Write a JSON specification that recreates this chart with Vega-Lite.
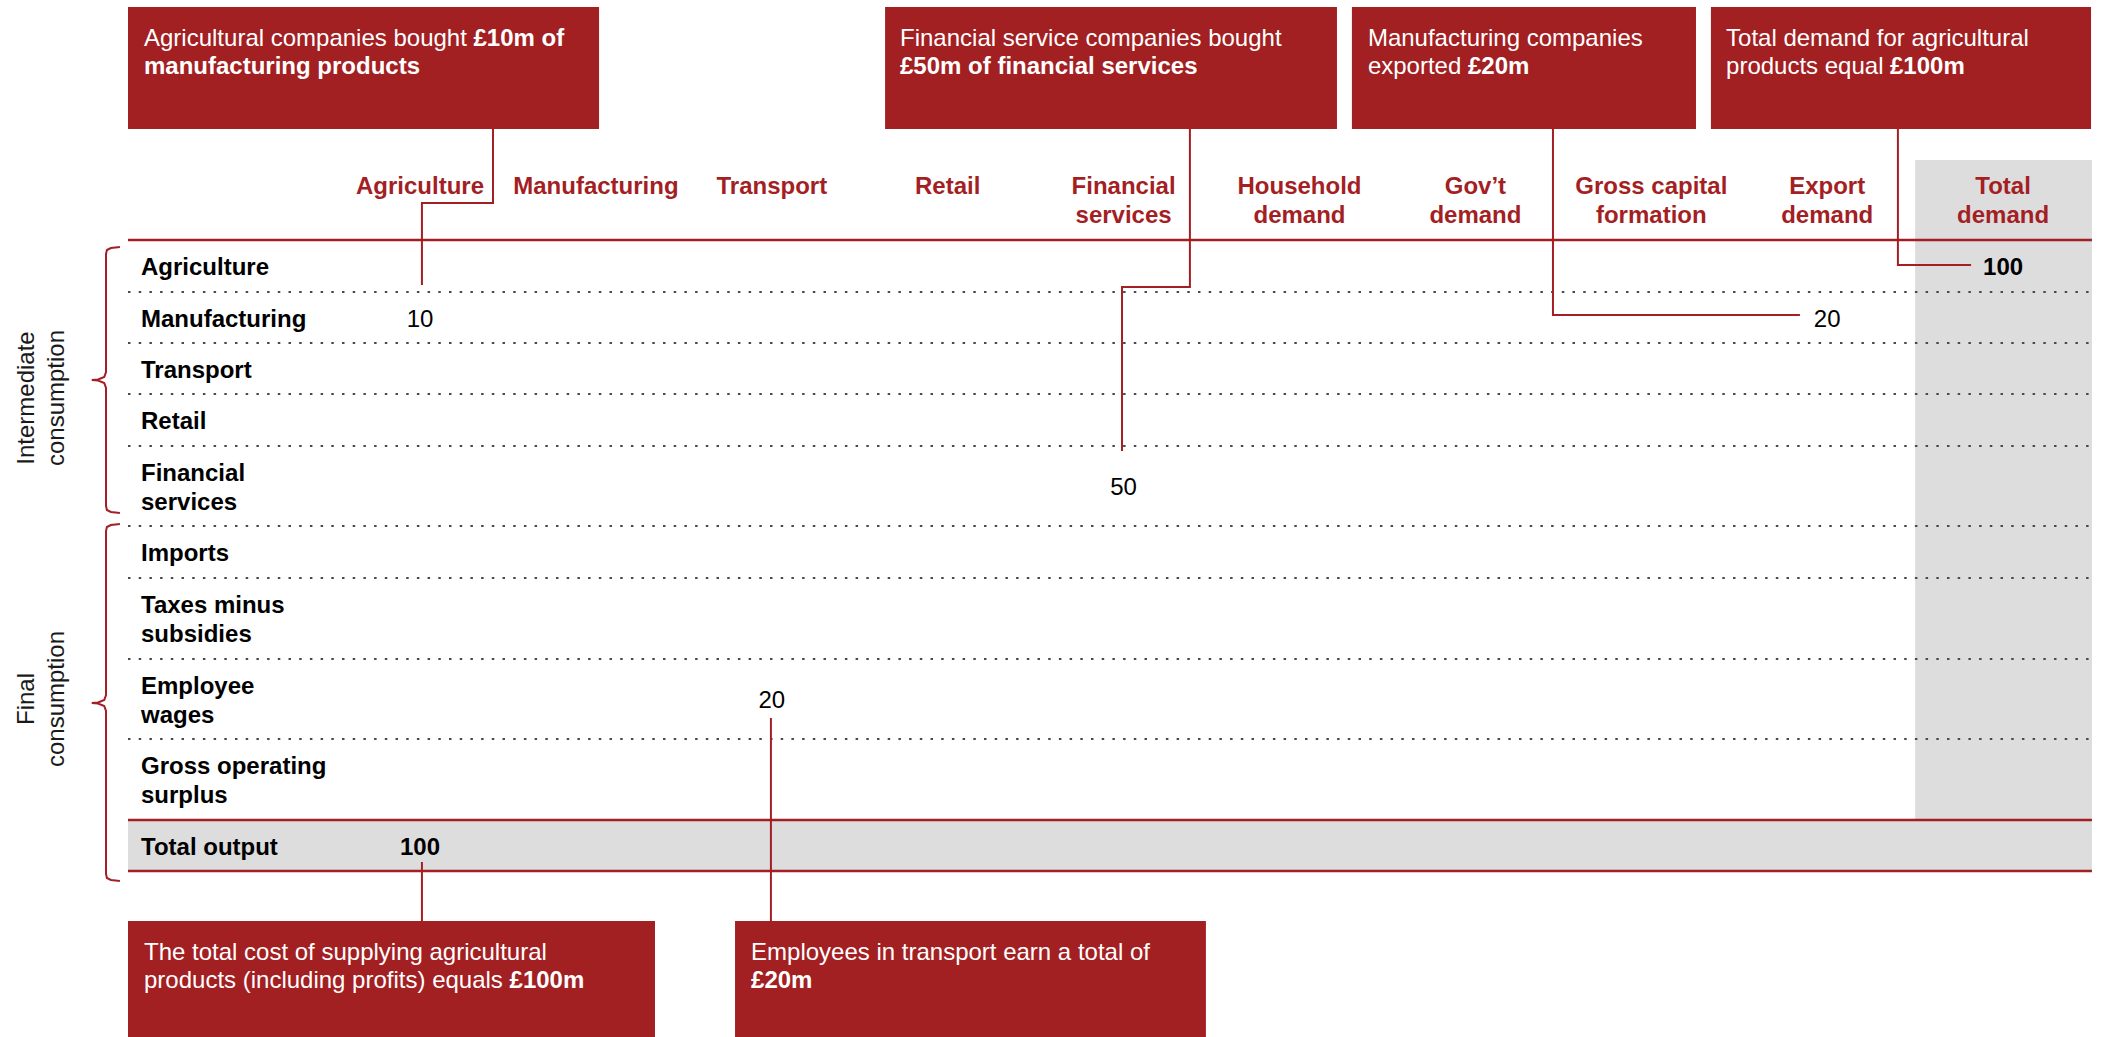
{
  "$schema": "https://vega.github.io/schema/vega-lite/v6.json",
  "width": 2101,
  "height": 1037,
  "autosize": {"type": "fit", "contains": "padding"},
  "padding": 0,
  "background": "white",
  "config": {
    "view": {"stroke": null},
    "text": {"font": "Liberation Sans, Arial, sans-serif", "fontSize": 24}
  },
  "datasets": {
    "cols": [
      {"col": 1, "label": "Agriculture"},
      {"col": 2, "label": "Manufacturing"},
      {"col": 3, "label": "Transport"},
      {"col": 4, "label": "Retail"},
      {"col": 5, "label": "Financial\nservices"},
      {"col": 6, "label": "Household\ndemand"},
      {"col": 7, "label": "Gov’t\ndemand"},
      {"col": 8, "label": "Gross capital\nformation"},
      {"col": 9, "label": "Export\ndemand"},
      {"col": 10, "label": "Total\ndemand"}
    ],
    "rows": [
      {"row": "Agriculture", "label": "Agriculture", "top": 240, "bottom": 292, "mid": 266},
      {"row": "Manufacturing", "label": "Manufacturing", "top": 292, "bottom": 343, "mid": 317.5},
      {"row": "Transport", "label": "Transport", "top": 343, "bottom": 394, "mid": 368.5},
      {"row": "Retail", "label": "Retail", "top": 394, "bottom": 446, "mid": 420},
      {"row": "Financial services", "label": "Financial\nservices", "top": 446, "bottom": 526, "mid": 486},
      {"row": "Imports", "label": "Imports", "top": 526, "bottom": 578, "mid": 552},
      {"row": "Taxes minus subsidies", "label": "Taxes minus\nsubsidies", "top": 578, "bottom": 659, "mid": 618.5},
      {"row": "Employee wages", "label": "Employee\nwages", "top": 659, "bottom": 739, "mid": 699},
      {"row": "Gross operating surplus", "label": "Gross operating\nsurplus", "top": 739, "bottom": 820, "mid": 779.5},
      {"row": "Total output", "label": "Total output", "top": 820, "bottom": 871, "mid": 845.5}
    ],
    "cells": [
      {"row": "Manufacturing", "col": 1, "value": "10", "kind": "flow"},
      {"row": "Manufacturing", "col": 9, "value": "20", "kind": "flow"},
      {"row": "Agriculture", "col": 10, "value": "100", "kind": "total"},
      {"row": "Financial services", "col": 5, "value": "50", "kind": "flow"},
      {"row": "Employee wages", "col": 3, "value": "20", "kind": "flow"},
      {"row": "Total output", "col": 1, "value": "100", "kind": "total"}
    ],
    "notes": [
      {"id": "n1", "x": -0.66, "x2": 2.018, "y": 7, "y2": 129},
      {"id": "n2", "x": 3.644, "x2": 6.213, "y": 7, "y2": 129},
      {"id": "n3", "x": 6.298, "x2": 8.254, "y": 7, "y2": 129},
      {"id": "n4", "x": 8.339, "x2": 10.5, "y": 7, "y2": 129},
      {"id": "n5", "x": -0.66, "x2": 2.336, "y": 921, "y2": 1037},
      {"id": "n6", "x": 2.791, "x2": 5.468, "y": 921, "y2": 1037}
    ],
    "noteText": [
      {"id": "n1", "text": "Agricultural companies bought ", "x": -0.569, "y": 46, "emph": false},
      {"id": "n1", "text": "£10m of", "x": 1.304, "y": 46, "emph": true},
      {"id": "n1", "text": "manufacturing products", "x": -0.569, "y": 74, "emph": true},
      {"id": "n2", "text": "Financial service companies bought", "x": 3.729, "y": 46, "emph": false},
      {"id": "n2", "text": "£50m of financial services", "x": 3.729, "y": 74, "emph": true},
      {"id": "n3", "text": "Manufacturing companies", "x": 6.389, "y": 46, "emph": false},
      {"id": "n3", "text": "exported ", "x": 6.389, "y": 74, "emph": false},
      {"id": "n3", "text": "£20m", "x": 6.958, "y": 74, "emph": true},
      {"id": "n4", "text": "Total demand for agricultural", "x": 8.425, "y": 46, "emph": false},
      {"id": "n4", "text": "products equal ", "x": 8.425, "y": 74, "emph": false},
      {"id": "n4", "text": "£100m", "x": 9.357, "y": 74, "emph": true},
      {"id": "n5", "text": "The total cost of supplying agricultural", "x": -0.569, "y": 960, "emph": false},
      {"id": "n5", "text": "products (including profits) equals ", "x": -0.569, "y": 988, "emph": false},
      {"id": "n5", "text": "£100m", "x": 1.509, "y": 988, "emph": true},
      {"id": "n6", "text": "Employees in transport earn a total of", "x": 2.882, "y": 960, "emph": false},
      {"id": "n6", "text": "£20m", "x": 2.882, "y": 988, "emph": true}
    ],
    "leaders": [
      {"id": "n1", "o": 1, "x": 1.415, "y": 129},
      {"id": "n1", "o": 2, "x": 1.415, "y": 203},
      {"id": "n1", "o": 3, "x": 1.011, "y": 203},
      {"id": "n1", "o": 4, "x": 1.011, "y": 285},
      {"id": "n2", "o": 1, "x": 5.377, "y": 129},
      {"id": "n2", "o": 2, "x": 5.377, "y": 287},
      {"id": "n2", "o": 3, "x": 4.991, "y": 287},
      {"id": "n2", "o": 4, "x": 4.991, "y": 451},
      {"id": "n3", "o": 1, "x": 7.441, "y": 129},
      {"id": "n3", "o": 2, "x": 7.441, "y": 315},
      {"id": "n3", "o": 3, "x": 8.845, "y": 315},
      {"id": "n4", "o": 1, "x": 9.402, "y": 129},
      {"id": "n4", "o": 2, "x": 9.402, "y": 265},
      {"id": "n4", "o": 3, "x": 9.818, "y": 265},
      {"id": "n5", "o": 1, "x": 1.011, "y": 862},
      {"id": "n5", "o": 2, "x": 1.011, "y": 921},
      {"id": "n6", "o": 1, "x": 2.995, "y": 718},
      {"id": "n6", "o": 2, "x": 2.995, "y": 921}
    ],
    "brackets": [
      {"id": "b1", "o": 1, "x": -0.706, "y": 247},
      {"id": "b1", "o": 2, "x": -0.757, "y": 248},
      {"id": "b1", "o": 3, "x": -0.78, "y": 250},
      {"id": "b1", "o": 4, "x": -0.785, "y": 254},
      {"id": "b1", "o": 5, "x": -0.785, "y": 372},
      {"id": "b1", "o": 6, "x": -0.795, "y": 377},
      {"id": "b1", "o": 7, "x": -0.83, "y": 379.5},
      {"id": "b1", "o": 8, "x": -0.866, "y": 380},
      {"id": "b1", "o": 9, "x": -0.83, "y": 380.5},
      {"id": "b1", "o": 10, "x": -0.795, "y": 383},
      {"id": "b1", "o": 11, "x": -0.785, "y": 388},
      {"id": "b1", "o": 12, "x": -0.785, "y": 506},
      {"id": "b1", "o": 13, "x": -0.78, "y": 510},
      {"id": "b1", "o": 14, "x": -0.757, "y": 512},
      {"id": "b1", "o": 15, "x": -0.706, "y": 513},
      {"id": "b2", "o": 1, "x": -0.706, "y": 524},
      {"id": "b2", "o": 2, "x": -0.757, "y": 525},
      {"id": "b2", "o": 3, "x": -0.78, "y": 527},
      {"id": "b2", "o": 4, "x": -0.785, "y": 531},
      {"id": "b2", "o": 5, "x": -0.785, "y": 695},
      {"id": "b2", "o": 6, "x": -0.795, "y": 700},
      {"id": "b2", "o": 7, "x": -0.83, "y": 702.5},
      {"id": "b2", "o": 8, "x": -0.866, "y": 703},
      {"id": "b2", "o": 9, "x": -0.83, "y": 703.5},
      {"id": "b2", "o": 10, "x": -0.795, "y": 706},
      {"id": "b2", "o": 11, "x": -0.785, "y": 711},
      {"id": "b2", "o": 12, "x": -0.785, "y": 874},
      {"id": "b2", "o": 13, "x": -0.78, "y": 878},
      {"id": "b2", "o": 14, "x": -0.757, "y": 880},
      {"id": "b2", "o": 15, "x": -0.706, "y": 881}
    ],
    "groups": [
      {"label": "Intermediate\nconsumption", "x": -1.235, "y": 398},
      {"label": "Final\nconsumption", "x": -1.235, "y": 699}
    ]
  },
  "layer": [
    {
      "data": {"values": [{"band": "Total demand"}]},
      "mark": {"type": "rect", "color": "#DDDDDD"},
      "encoding": {
        "x": {"datum": 9.5, "type": "quantitative", "scale": {"domain": [-1.3877, 10.5566], "nice": false, "zero": false}, "axis": null},
        "x2": {"datum": 10.505},
        "y": {"datum": 160, "type": "quantitative", "scale": {"domain": [0, 1037], "nice": false, "zero": false, "reverse": true}, "axis": null},
        "y2": {"datum": 820}
      }
    },
    {
      "data": {"name": "rows"},
      "transform": [{"filter": {"field": "row", "equal": "Total output"}}],
      "mark": {"type": "rect", "color": "#DDDDDD"},
      "encoding": {
        "x": {"datum": -0.66, "type": "quantitative", "scale": {"domain": [-1.3877, 10.5566], "nice": false, "zero": false}, "axis": null},
        "x2": {"datum": 10.505},
        "y": {"field": "top", "type": "quantitative", "scale": {"domain": [0, 1037], "nice": false, "zero": false, "reverse": true}, "axis": null},
        "y2": {"field": "bottom"}
      }
    },
    {
      "data": {"name": "rows"},
      "transform": [{"filter": {"not": {"field": "row", "oneOf": ["Gross operating surplus", "Total output"]}}}],
      "mark": {"type": "rule", "color": "#4a4a4a", "strokeWidth": 2, "strokeDash": [2.5, 8.2], "strokeCap": "butt"},
      "encoding": {
        "x": {"datum": -0.66, "type": "quantitative", "scale": {"domain": [-1.3877, 10.5566], "nice": false, "zero": false}, "axis": null},
        "x2": {"datum": 10.505},
        "y": {"field": "bottom", "type": "quantitative", "scale": {"domain": [0, 1037], "nice": false, "zero": false, "reverse": true}, "axis": null}
      }
    },
    {
      "data": {"name": "rows"},
      "transform": [{"filter": {"field": "row", "oneOf": ["Agriculture", "Total output"]}}],
      "mark": {"type": "rule", "color": "#A31F24", "strokeWidth": 2.5},
      "encoding": {
        "x": {"datum": -0.66, "type": "quantitative", "scale": {"domain": [-1.3877, 10.5566], "nice": false, "zero": false}, "axis": null},
        "x2": {"datum": 10.505},
        "y": {"field": "top", "type": "quantitative", "scale": {"domain": [0, 1037], "nice": false, "zero": false, "reverse": true}, "axis": null}
      }
    },
    {
      "data": {"name": "rows"},
      "transform": [{"filter": {"field": "row", "equal": "Total output"}}],
      "mark": {"type": "rule", "color": "#A31F24", "strokeWidth": 2.5},
      "encoding": {
        "x": {"datum": -0.66, "type": "quantitative", "scale": {"domain": [-1.3877, 10.5566], "nice": false, "zero": false}, "axis": null},
        "x2": {"datum": 10.505},
        "y": {"field": "bottom", "type": "quantitative", "scale": {"domain": [0, 1037], "nice": false, "zero": false, "reverse": true}, "axis": null}
      }
    },
    {
      "data": {"name": "leaders"},
      "mark": {"type": "line", "color": "#A31F24", "strokeWidth": 2, "interpolate": "linear"},
      "encoding": {
        "x": {"field": "x", "type": "quantitative", "scale": {"domain": [-1.3877, 10.5566], "nice": false, "zero": false}, "axis": null},
        "y": {"field": "y", "type": "quantitative", "scale": {"domain": [0, 1037], "nice": false, "zero": false, "reverse": true}, "axis": null},
        "detail": {"field": "id"},
        "order": {"field": "o", "type": "quantitative"}
      }
    },
    {
      "data": {"name": "brackets"},
      "mark": {"type": "line", "color": "#A31F24", "strokeWidth": 2, "interpolate": "linear"},
      "encoding": {
        "x": {"field": "x", "type": "quantitative", "scale": {"domain": [-1.3877, 10.5566], "nice": false, "zero": false}, "axis": null},
        "y": {"field": "y", "type": "quantitative", "scale": {"domain": [0, 1037], "nice": false, "zero": false, "reverse": true}, "axis": null},
        "detail": {"field": "id"},
        "order": {"field": "o", "type": "quantitative"}
      }
    },
    {
      "data": {"name": "notes"},
      "mark": {"type": "rect", "color": "#A21F22"},
      "encoding": {
        "x": {"field": "x", "type": "quantitative", "scale": {"domain": [-1.3877, 10.5566], "nice": false, "zero": false}, "axis": null},
        "x2": {"field": "x2"},
        "y": {"field": "y", "type": "quantitative", "scale": {"domain": [0, 1037], "nice": false, "zero": false, "reverse": true}, "axis": null},
        "y2": {"field": "y2"}
      }
    },
    {
      "data": {"name": "noteText"},
      "transform": [{"filter": {"field": "emph", "equal": false}}],
      "mark": {"type": "text", "color": "white", "align": "left", "baseline": "alphabetic"},
      "encoding": {
        "x": {"field": "x", "type": "quantitative", "scale": {"domain": [-1.3877, 10.5566], "nice": false, "zero": false}, "axis": null},
        "y": {"field": "y", "type": "quantitative", "scale": {"domain": [0, 1037], "nice": false, "zero": false, "reverse": true}, "axis": null},
        "text": {"field": "text"}
      }
    },
    {
      "data": {"name": "noteText"},
      "transform": [{"filter": {"field": "emph", "equal": true}}],
      "mark": {"type": "text", "color": "white", "align": "left", "baseline": "alphabetic", "fontWeight": "bold"},
      "encoding": {
        "x": {"field": "x", "type": "quantitative", "scale": {"domain": [-1.3877, 10.5566], "nice": false, "zero": false}, "axis": null},
        "y": {"field": "y", "type": "quantitative", "scale": {"domain": [0, 1037], "nice": false, "zero": false, "reverse": true}, "axis": null},
        "text": {"field": "text"}
      }
    },
    {
      "data": {"name": "cols"},
      "mark": {"type": "text", "color": "#A31F24", "fontWeight": "bold", "align": "center", "baseline": "alphabetic", "lineBreak": "\n", "lineHeight": 28.5},
      "encoding": {
        "x": {"field": "col", "type": "quantitative", "scale": {"domain": [-1.3877, 10.5566], "nice": false, "zero": false}, "axis": null},
        "y": {"datum": 194, "type": "quantitative", "scale": {"domain": [0, 1037], "nice": false, "zero": false, "reverse": true}, "axis": null},
        "text": {"field": "label"}
      }
    },
    {
      "data": {"name": "rows"},
      "mark": {"type": "text", "color": "black", "fontWeight": "bold", "align": "left", "baseline": "alphabetic", "dy": 35, "lineBreak": "\n", "lineHeight": 28.5},
      "encoding": {
        "x": {"datum": -0.586, "type": "quantitative", "scale": {"domain": [-1.3877, 10.5566], "nice": false, "zero": false}, "axis": null},
        "y": {"field": "top", "type": "quantitative", "scale": {"domain": [0, 1037], "nice": false, "zero": false, "reverse": true}, "axis": null},
        "text": {"field": "label"}
      }
    },
    {
      "data": {"name": "cells"},
      "transform": [
        {"lookup": "row", "from": {"data": {"name": "rows"}, "key": "row", "fields": ["mid"]}},
        {"filter": {"field": "kind", "equal": "flow"}}
      ],
      "mark": {"type": "text", "color": "black", "align": "center", "baseline": "middle", "dy": 2},
      "encoding": {
        "x": {"field": "col", "type": "quantitative", "scale": {"domain": [-1.3877, 10.5566], "nice": false, "zero": false}, "axis": null},
        "y": {"field": "mid", "type": "quantitative", "scale": {"domain": [0, 1037], "nice": false, "zero": false, "reverse": true}, "axis": null},
        "text": {"field": "value"}
      }
    },
    {
      "data": {"name": "cells"},
      "transform": [
        {"lookup": "row", "from": {"data": {"name": "rows"}, "key": "row", "fields": ["mid"]}},
        {"filter": {"field": "kind", "equal": "total"}}
      ],
      "mark": {"type": "text", "color": "black", "fontWeight": "bold", "align": "center", "baseline": "middle", "dy": 2},
      "encoding": {
        "x": {"field": "col", "type": "quantitative", "scale": {"domain": [-1.3877, 10.5566], "nice": false, "zero": false}, "axis": null},
        "y": {"field": "mid", "type": "quantitative", "scale": {"domain": [0, 1037], "nice": false, "zero": false, "reverse": true}, "axis": null},
        "text": {"field": "value"}
      }
    },
    {
      "data": {"name": "groups"},
      "mark": {"type": "text", "color": "#1a1a1a", "align": "center", "baseline": "middle", "angle": 270, "lineBreak": "\n", "lineHeight": 30},
      "encoding": {
        "x": {"field": "x", "type": "quantitative", "scale": {"domain": [-1.3877, 10.5566], "nice": false, "zero": false}, "axis": null},
        "y": {"field": "y", "type": "quantitative", "scale": {"domain": [0, 1037], "nice": false, "zero": false, "reverse": true}, "axis": null},
        "text": {"field": "label"}
      }
    }
  ]
}
